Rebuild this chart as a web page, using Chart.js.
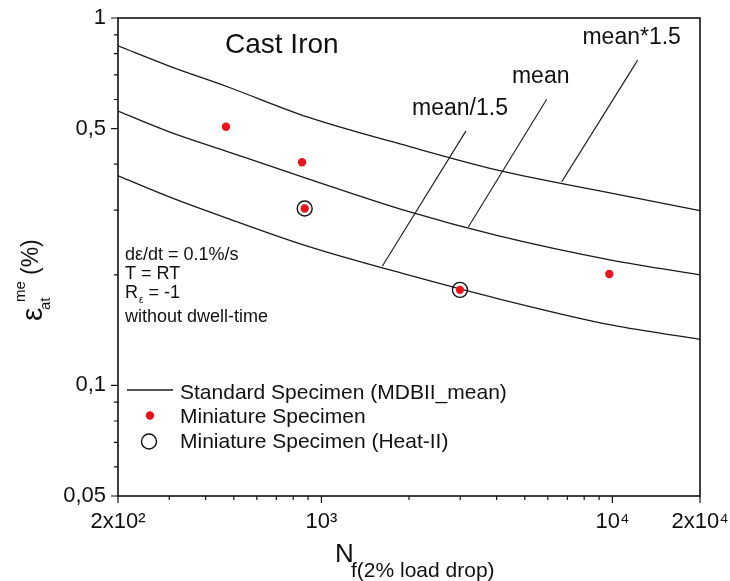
<!DOCTYPE html>
<html>
<head>
<meta charset="utf-8">
<script src="https://cdn.jsdelivr.net/npm/chart.js@4.4.1/dist/chart.umd.min.js"></script>
<style>
  html, body { margin: 0; padding: 0; background: #fff; }
  canvas { display: block; }
</style>
</head>
<body>
<canvas id="chart" width="730" height="581" style="width:730px;height:581px"></canvas>
<script>
// cycles to failure sampled along the three fit curves
const nCycles = [200, 300, 475, 900, 2000, 4000, 10000, 20000];
const curveUpper = [0.840, 0.740, 0.650, 0.537, 0.447, 0.386, 0.333, 0.299]; // mean*1.5
const curveMean = [0.558, 0.490, 0.433, 0.365, 0.297, 0.256, 0.219, 0.200];  // mean
const curveLower = [0.372, 0.326, 0.285, 0.239, 0.1995, 0.1726, 0.1458, 0.1335]; // mean/1.5

// miniature specimens
const miniN = [470, 858, 876, 2993, 9760];
const miniStrain = [0.506, 0.405, 0.303, 0.182, 0.201];
// miniature specimens, Heat-II (circled)
const heatN = [876, 2993];
const heatStrain = [0.303, 0.182];

// leader lines from each curve to its label: [start, end] in data units
const leaderNames = ['mean*1.5', 'mean', 'mean/1.5'];
const leaderN = [[6693, 12215], [3198, 5947], [1619, 3140]];
const leaderStrain = [[0.358, 0.768], [0.270, 0.601], [0.211, 0.493]];

const legendNames = ['Standard Specimen (MDBII_mean)', 'Miniature Specimen', 'Miniature Specimen (Heat-II)'];

// ticks
const xMajorTicks = [200, 1000, 10000, 20000];
const xTickLabels = ['2x10²', '10³', '10⁴', '2x10⁴'];
const xMinorTicks = [300, 400, 500, 600, 700, 800, 900, 2000, 3000, 4000, 5000, 6000, 7000, 8000, 9000];
const yMajorTicks = [0.05, 0.1, 0.5, 1];
const yTickLabels = ['0,05', '0,1', '0,5', '1'];
const yMinorTicks = [0.06, 0.07, 0.08, 0.09, 0.2, 0.3, 0.4, 0.6, 0.7, 0.8, 0.9];

const FONT = '"Liberation Sans", Arial, Helvetica, sans-serif';
const RED = '#e8141b';

const pts = (xs, ys) => xs.map((v, i) => ({ x: v, y: ys[i] }));

const curveStyle = {
  type: 'line',
  borderColor: '#1a1a1a',
  borderWidth: 1.3,
  pointRadius: 0,
  fill: false,
  cubicInterpolationMode: 'monotone',
  order: 5
};

const datasets = [
  Object.assign({ label: legendNames[0], data: pts(nCycles, curveUpper) }, curveStyle),
  Object.assign({ label: legendNames[0], data: pts(nCycles, curveMean) }, curveStyle),
  Object.assign({ label: legendNames[0], data: pts(nCycles, curveLower) }, curveStyle)
];

leaderNames.forEach((name, i) => {
  datasets.push({
    type: 'line',
    label: name,
    data: pts(leaderN[i], leaderStrain[i]),
    borderColor: '#1a1a1a',
    borderWidth: 1.1,
    pointRadius: 0,
    fill: false,
    order: 4
  });
});

datasets.push({
  type: 'scatter',
  label: legendNames[2],
  data: pts(heatN, heatStrain),
  pointRadius: 7.5,
  pointBackgroundColor: 'rgba(0,0,0,0)',
  pointBorderColor: '#111',
  pointBorderWidth: 1.4,
  order: 2
});

datasets.push({
  type: 'scatter',
  label: legendNames[1],
  data: pts(miniN, miniStrain),
  pointRadius: 4.2,
  pointBackgroundColor: RED,
  pointBorderWidth: 0,
  order: 1
});

const overlay = {
  id: 'overlay',
  beforeDraw(chart) {
    const ctx = chart.ctx;
    ctx.save();
    ctx.fillStyle = '#fff';
    ctx.fillRect(0, 0, chart.width, chart.height);
    ctx.restore();
  },
  afterDraw(chart) {
    const { ctx, chartArea: a } = chart;
    const x = chart.scales.x, y = chart.scales.y;
    ctx.save();

    // frame
    ctx.strokeStyle = '#111';
    ctx.lineWidth = 1.6;
    ctx.strokeRect(a.left, a.top, a.right - a.left, a.bottom - a.top);

    // tick marks
    ctx.lineWidth = 1.2;
    ctx.beginPath();
    xMajorTicks.forEach(v => { const p = x.getPixelForValue(v); ctx.moveTo(p, a.bottom); ctx.lineTo(p, a.bottom + 7); });
    xMinorTicks.forEach(v => { const p = x.getPixelForValue(v); ctx.moveTo(p, a.bottom); ctx.lineTo(p, a.bottom + 4); });
    yMajorTicks.forEach(v => { const p = y.getPixelForValue(v); ctx.moveTo(a.left, p); ctx.lineTo(a.left - 7, p); });
    yMinorTicks.forEach(v => { const p = y.getPixelForValue(v); ctx.moveTo(a.left, p); ctx.lineTo(a.left - 4, p); });
    ctx.stroke();

    ctx.fillStyle = '#111';
    ctx.textBaseline = 'alphabetic';

    // title
    ctx.textAlign = 'left';
    ctx.font = '28px ' + FONT;
    ctx.fillText('Cast Iron', 225, 53);

    // curve labels at the end of the leader lines
    ctx.textAlign = 'center';
    ctx.font = '23px ' + FONT;
    leaderNames.forEach((name, i) => {
      const ex = x.getPixelForValue(leaderN[i][1]);
      const ey = y.getPixelForValue(leaderStrain[i][1]);
      ctx.fillText(name, ex - 6, ey - 16);
    });

    // test conditions
    ctx.textAlign = 'left';
    ctx.font = '18px ' + FONT;
    ctx.fillText('dε/dt = 0.1%/s', 125, 260);
    ctx.fillText('T = RT', 125, 279);
    ctx.fillText('R', 125, 298);
    let rx = 125 + ctx.measureText('R').width;
    ctx.font = '10px ' + FONT;
    ctx.fillText('ε', rx + 1, 303);
    rx += ctx.measureText('ε').width + 1;
    ctx.font = '18px ' + FONT;
    ctx.fillText(' = -1', rx, 298);
    ctx.fillText('without dwell-time', 125, 322);

    // legend
    ctx.strokeStyle = '#1a1a1a';
    ctx.lineWidth = 1.3;
    ctx.beginPath();
    ctx.moveTo(127, 390);
    ctx.lineTo(173, 390);
    ctx.stroke();
    ctx.fillStyle = RED;
    ctx.beginPath();
    ctx.arc(150, 415.5, 4.2, 0, Math.PI * 2);
    ctx.fill();
    ctx.strokeStyle = '#111';
    ctx.lineWidth = 1.4;
    ctx.beginPath();
    ctx.arc(149, 441.5, 7.5, 0, Math.PI * 2);
    ctx.stroke();
    ctx.fillStyle = '#111';
    ctx.font = '21px ' + FONT;
    ctx.fillText(legendNames[0], 180, 399);
    ctx.fillText(legendNames[1], 180, 423);
    ctx.fillText(legendNames[2], 180, 448);

    // x axis title
    ctx.font = '26px ' + FONT;
    ctx.fillText('N', 335, 562);
    ctx.font = '21px ' + FONT;
    ctx.fillText('f(2% load drop)', 351, 577);

    // y axis title, rotated
    ctx.translate(42, 321);
    ctx.rotate(-Math.PI / 2);
    ctx.font = '30px ' + FONT;
    ctx.fillText('ε', 0, 0);
    ctx.font = '15px ' + FONT;
    ctx.fillText('at', 11, 8);
    ctx.fillText('me', 19, -17);
    ctx.font = '23px ' + FONT;
    ctx.fillText('(%)', 46, -4);

    ctx.restore();
  }
};

new Chart(document.getElementById('chart'), {
  type: 'line',
  data: { datasets: datasets },
  options: {
    responsive: false,
    animation: false,
    devicePixelRatio: 1,
    layout: { padding: { top: 18, right: 30, left: 0, bottom: 0 } },
    plugins: {
      legend: { display: false },
      tooltip: { enabled: false }
    },
    scales: {
      x: {
        type: 'logarithmic',
        min: 200,
        max: 20000,
        afterBuildTicks: s => { s.ticks = xMajorTicks.map(v => ({ value: v })); },
        afterFit: s => {
          s.height = 85;
          s.paddingLeft = 0;
          s.paddingRight = 0;
        },
        grid: { display: false, drawTicks: false },
        border: { display: false },
        ticks: {
          autoSkip: false,
          maxRotation: 0,
          padding: 13,
          color: '#111',
          font: { size: 22, family: FONT },
          callback: v => {
            const i = xMajorTicks.indexOf(v);
            return i >= 0 ? xTickLabels[i] : '';
          }
        }
      },
      y: {
        type: 'logarithmic',
        min: 0.05,
        max: 1,
        afterBuildTicks: s => { s.ticks = yMajorTicks.map(v => ({ value: v })); },
        afterFit: s => {
          s.width = 118;
          s.paddingTop = 0;
          s.paddingBottom = 0;
        },
        grid: { display: false, drawTicks: false },
        border: { display: false },
        ticks: {
          autoSkip: false,
          padding: 12,
          color: '#111',
          font: { size: 22, family: FONT },
          callback: v => {
            const i = yMajorTicks.indexOf(v);
            return i >= 0 ? yTickLabels[i] : '';
          }
        }
      }
    }
  },
  plugins: [overlay]
});
</script>
</body>
</html>
